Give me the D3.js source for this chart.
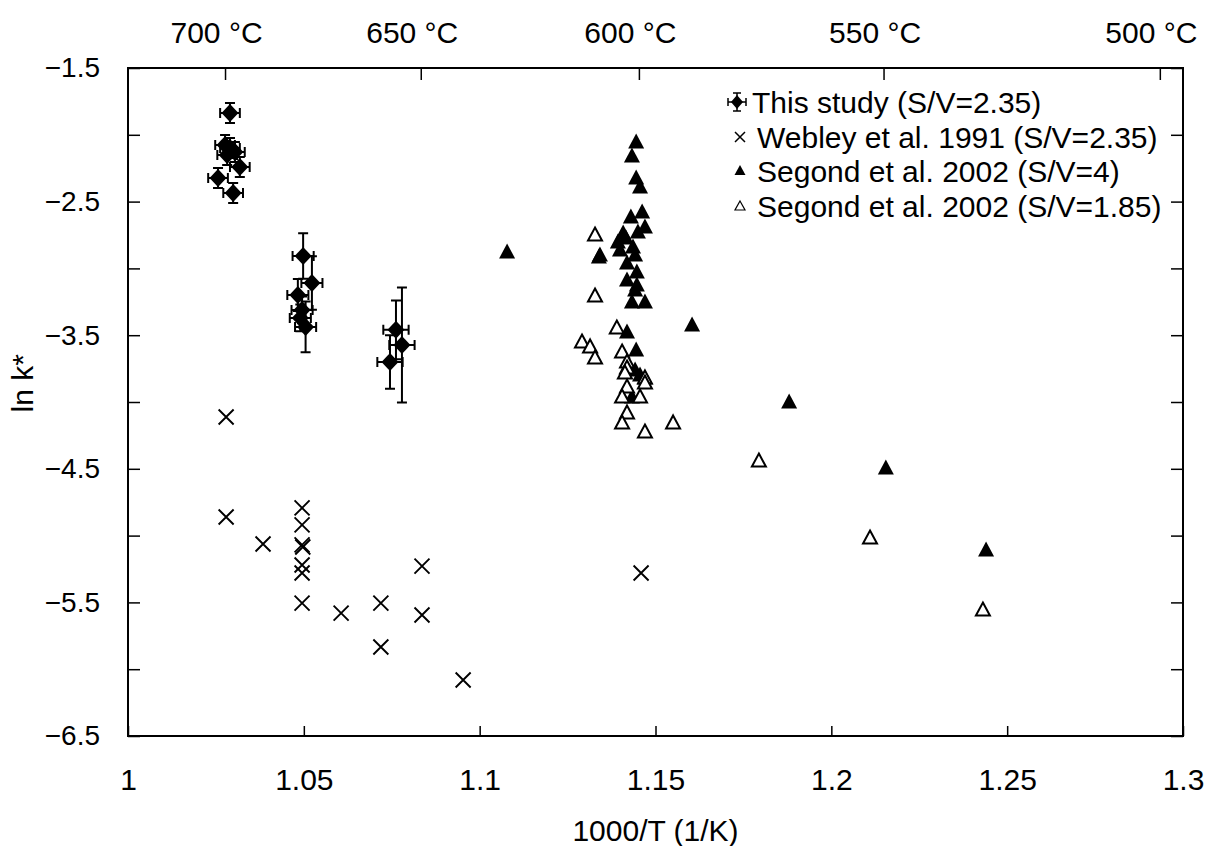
<!DOCTYPE html>
<html>
<head>
<meta charset="utf-8">
<script src="https://cdn.jsdelivr.net/npm/d3@7"></script>
<style>
  body { margin: 0; background: #fff; }
  text { font-family: "Liberation Sans", Arial, sans-serif; fill: #000; }
</style>
</head>
<body>
<div id="chart"></div>
<script>
// ---- data ----
// This study (S/V=2.35): x = 1000/T, y = ln k*, ex/ey = error half widths
let study_x  = [1.0290, 1.0276, 1.0290, 1.0304, 1.0282, 1.0318, 1.0256, 1.0299,
                1.0498, 1.0523, 1.0483, 1.0495, 1.0490, 1.0505,
                1.0762, 1.0779, 1.0745];
let study_y  = [-1.837, -2.076, -2.099, -2.129, -2.151, -2.241, -2.323, -2.436,
                -2.907, -3.109, -3.199, -3.311, -3.371, -3.438,
                -3.460, -3.573, -3.700];
let study_ex = [0.0028, 0.0028, 0.0028, 0.0028, 0.0028, 0.0028, 0.0028, 0.0028,
                0.0030, 0.0030, 0.0030, 0.0030, 0.0030, 0.0030,
                0.0036, 0.0036, 0.0036];
let study_ey = [0.075, 0.075, 0.075, 0.075, 0.075, 0.075, 0.075, 0.075,
                0.17, 0.20, 0.12, 0.10, 0.10, 0.19,
                0.22, 0.43, 0.20];

// Webley et al. 1991 (S/V=2.35)
let webley_x = [1.0279, 1.0279, 1.0384, 1.0495, 1.0495, 1.0495, 1.0497, 1.0495, 1.0495, 1.0495,
                1.0606, 1.0719, 1.0719, 1.0836, 1.0836, 1.0953, 1.1459];
let webley_y = [-4.112, -4.861, -5.063, -4.793, -4.920, -5.070, -5.085, -5.220, -5.280, -5.505,
                -5.580, -5.505, -5.834, -5.228, -5.594, -6.081, -5.280];

// Segond et al. 2002 (S/V=4)
let segond4_x = [1.1445, 1.1433, 1.1445, 1.1456, 1.1462, 1.1430, 1.1470, 1.1408, 1.1393, 1.1436,
                 1.1416, 1.1450, 1.1342, 1.1442, 1.1399, 1.1419, 1.1447, 1.1419, 1.1447, 1.1442,
                 1.1433, 1.1470, 1.1419, 1.1445, 1.1442, 1.1456, 1.1470, 1.1433,
                 1.1078, 1.1339, 1.1604, 1.1880, 1.2155, 1.2440];
let segond4_y = [-2.054, -2.159, -2.323, -2.391, -2.578, -2.615, -2.690, -2.735, -2.802, -2.840,
                 -2.772, -2.728, -2.900, -2.900, -2.862, -2.960, -3.027, -3.087, -3.124, -3.162,
                 -3.251, -3.251, -3.476, -3.611, -3.760, -3.798, -3.820, -3.963,
                 -2.877, -2.915, -3.424, -4.000, -4.494, -5.108];

// Segond et al. 2002 (S/V=1.85)
let segond185_x = [1.1328, 1.1328, 1.1291, 1.1314, 1.1328, 1.1390, 1.1405, 1.1419, 1.1419, 1.1413,
                   1.1470, 1.1470, 1.1419, 1.1405, 1.1456, 1.1419, 1.1405, 1.1470, 1.1550,
                   1.1794, 1.2110, 1.2431];
let segond185_y = [-2.750, -3.207, -3.551, -3.588, -3.671, -3.446, -3.626, -3.701, -3.746, -3.783,
                   -3.820, -3.858, -3.888, -3.963, -3.963, -4.082, -4.157, -4.225, -4.157,
                   -4.442, -5.018, -5.557];

let x_ticks = [1, 1.05, 1.1, 1.15, 1.2, 1.25, 1.3];
let y_ticks = [-1.5, -2, -2.5, -3, -3.5, -4, -4.5, -5, -5.5, -6, -6.5];
let y_labels = [-1.5, -2.5, -3.5, -4.5, -5.5, -6.5];
let top_temps = [700, 650, 600, 550, 500];

let legend_labels = ["This study (S/V=2.35)", "Webley et al. 1991 (S/V=2.35)",
                     "Segond et al. 2002 (S/V=4)", "Segond et al. 2002 (S/V=1.85)"];

// ---- layout ----
let width = 1209, height = 846;
let margin = {top: 68, left: 128, right: 26, bottom: 110};

let svg = d3.select("#chart").append("svg")
    .attr("width", width)
    .attr("height", height);

let xScale = d3.scaleLinear().domain([1, 1.3]).range([margin.left, width - margin.right]);
let yScale = d3.scaleLinear().domain([-1.5, -6.5]).range([margin.top, height - margin.bottom]);

let fs = 30;

// frame
svg.append("rect")
    .attr("x", xScale(1)).attr("y", yScale(-1.5))
    .attr("width", xScale(1.3) - xScale(1))
    .attr("height", yScale(-6.5) - yScale(-1.5))
    .attr("fill", "none").attr("stroke", "#000").attr("stroke-width", 2);

// left axis, ticks inward
let yAxisLeft = d3.axisLeft(yScale).tickValues(y_ticks).tickSizeInner(-12).tickSizeOuter(0).tickPadding(28)
    .tickFormat(d => y_labels.includes(d) ? d3.format(".1f")(d) : "");
let gl = svg.append("g").attr("transform", "translate(" + xScale(1) + ",0)").call(yAxisLeft);

// right axis, ticks inward
let yAxisRight = d3.axisRight(yScale).tickValues(y_ticks).tickSizeInner(-12).tickSizeOuter(0).tickFormat("");
let gr = svg.append("g").attr("transform", "translate(" + xScale(1.3) + ",0)").call(yAxisRight);

// bottom axis
let xAxis = d3.axisBottom(xScale).tickValues(x_ticks).tickSizeInner(-10).tickSizeOuter(0).tickPadding(33)
    .tickFormat(d => d3.format("")(+d.toFixed(2)));
let gb = svg.append("g").attr("transform", "translate(0," + yScale(-6.5) + ")").call(xAxis);

// top axis in degrees C
let xAxisTop = d3.axisTop(xScale).tickValues(top_temps.map(t => 1000 / (t + 273.15)))
    .tickSizeInner(-12).tickSizeOuter(0).tickPadding(25)
    .tickFormat((d, i) => top_temps[i] + " °C");
let gt = svg.append("g").attr("transform", "translate(0," + yScale(-1.5) + ")").call(xAxisTop);
gt.selectAll(".tick text").attr("dx", -9);

[gl, gr, gb, gt].forEach(g => {
    g.select(".domain").remove();
    g.selectAll(".tick line").attr("stroke", "#000").attr("stroke-width", 1.5);
    g.selectAll(".tick text").attr("font-size", fs).attr("font-family", "Liberation Sans, Arial, sans-serif");
});
gl.selectAll(".tick text").attr("font-size", 28);

// axis titles
svg.append("text")
    .attr("x", xScale(1.15)).attr("y", 841)
    .attr("text-anchor", "middle").attr("font-size", fs)
    .text("1000/T (1/K)");
svg.append("text")
    .attr("transform", "translate(33," + yScale(-3.86) + ") rotate(-90)")
    .attr("text-anchor", "middle").attr("font-size", fs)
    .text("ln k*");

// ---- marks ----
let study = study_x.map((x, i) => ({x: x, y: study_y[i], ex: study_ex[i], ey: study_ey[i]}));
let webley = webley_x.map((x, i) => ({x: x, y: webley_y[i]}));
let seg4 = segond4_x.map((x, i) => ({x: x, y: segond4_y[i]}));
let seg185 = segond185_x.map((x, i) => ({x: x, y: segond185_y[i]}));

let cap = 5;
let gErr = svg.append("g").attr("stroke", "#000").attr("stroke-width", 2).attr("fill", "none");
study.forEach(d => {
    let cx = xScale(d.x), cy = yScale(d.y);
    let x0 = xScale(d.x - d.ex), x1 = xScale(d.x + d.ex);
    let y0 = yScale(d.y + d.ey), y1 = yScale(d.y - d.ey);
    gErr.append("path").attr("d",
        "M" + x0 + "," + cy + "H" + x1 +
        "M" + x0 + "," + (cy - cap) + "V" + (cy + cap) +
        "M" + x1 + "," + (cy - cap) + "V" + (cy + cap) +
        "M" + cx + "," + y0 + "V" + y1 +
        "M" + (cx - cap) + "," + y0 + "H" + (cx + cap) +
        "M" + (cx - cap) + "," + y1 + "H" + (cx + cap));
});

svg.append("g").selectAll("path.dia")
    .data(study).join("path")
    .attr("class", "dia")
    .attr("d", "M0,-9L8.5,0L0,9L-8.5,0Z")
    .attr("transform", d => "translate(" + xScale(d.x) + "," + yScale(d.y) + ")")
    .attr("fill", "#000");

let cross = "M-7.5,-7.5L7.5,7.5M-7.5,7.5L7.5,-7.5";
svg.append("g").selectAll("path.cross")
    .data(webley).join("path")
    .attr("class", "cross")
    .attr("d", cross)
    .attr("transform", d => "translate(" + xScale(d.x) + "," + yScale(d.y) + ")")
    .attr("stroke", "#000").attr("stroke-width", 1.9).attr("fill", "none");

let tri = "M0,-8.5L8,6.5L-8,6.5Z";
svg.append("g").selectAll("path.tri4")
    .data(seg4).join("path")
    .attr("class", "tri4")
    .attr("d", tri)
    .attr("transform", d => "translate(" + xScale(d.x) + "," + yScale(d.y) + ")")
    .attr("fill", "#000");

svg.append("g").selectAll("path.tri185")
    .data(seg185).join("path")
    .attr("class", "tri185")
    .attr("d", "M0,-7.5L7,5.5L-7,5.5Z")
    .attr("transform", d => "translate(" + xScale(d.x) + "," + yScale(d.y) + ")")
    .attr("fill", "#fff").attr("stroke", "#000").attr("stroke-width", 2);

// ---- legend ----
let legend_y = [102, 137, 171, 206];
let legend_tx = [752, 757, 757, 757];
let lg = svg.append("g");
legend_labels.forEach((lab, i) => {
    lg.append("text")
        .attr("x", legend_tx[i]).attr("y", legend_y[i]).attr("dy", "0.35em")
        .attr("font-size", fs).text(lab);
});
let mx = 737;
// row 1: diamond with error bars
lg.append("path")
    .attr("d", "M" + (mx - 9) + "," + legend_y[0] + "H" + (mx + 9) +
        "M" + (mx - 9) + "," + (legend_y[0] - 4) + "V" + (legend_y[0] + 4) +
        "M" + (mx + 9) + "," + (legend_y[0] - 4) + "V" + (legend_y[0] + 4) +
        "M" + mx + "," + (legend_y[0] - 9) + "V" + (legend_y[0] + 9) +
        "M" + (mx - 4) + "," + (legend_y[0] - 9) + "H" + (mx + 4) +
        "M" + (mx - 4) + "," + (legend_y[0] + 9) + "H" + (mx + 4))
    .attr("stroke", "#000").attr("stroke-width", 1.5).attr("fill", "none");
lg.append("path").attr("d", "M0,-7L6,0L0,7L-6,0Z")
    .attr("transform", "translate(" + mx + "," + legend_y[0] + ")").attr("fill", "#000");
lg.append("path").attr("d", "M-5,-5L5,5M-5,5L5,-5")
    .attr("transform", "translate(" + (mx + 3) + "," + legend_y[1] + ")")
    .attr("stroke", "#000").attr("stroke-width", 1.5);
lg.append("path").attr("d", "M0,-6L5.5,4L-5.5,4Z")
    .attr("transform", "translate(" + (mx + 3) + "," + legend_y[2] + ")").attr("fill", "#000");
lg.append("path").attr("d", "M0,-5L5,4L-5,4Z")
    .attr("transform", "translate(" + (mx + 3) + "," + legend_y[3] + ")")
    .attr("fill", "none").attr("stroke", "#000").attr("stroke-width", 1.2);
</script>
</body>
</html>
